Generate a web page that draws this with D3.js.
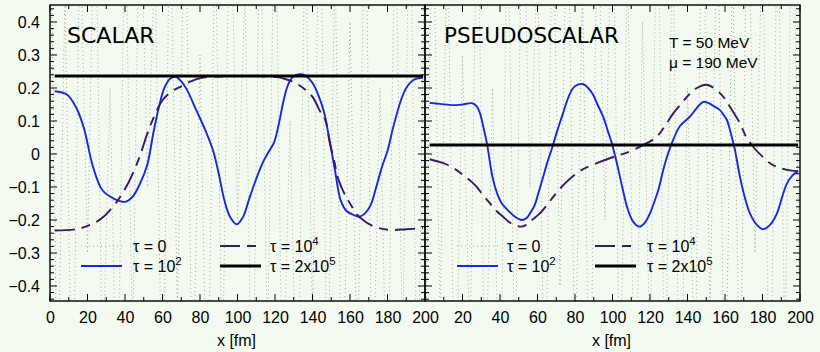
<!DOCTYPE html>
<html><head><meta charset="utf-8">
<script src="https://cdn.jsdelivr.net/npm/d3@7"></script>
<style>body{margin:0;background:#f3fbf1}svg{display:block}</style>
</head><body><svg id="c" width="820" height="352"></svg>
<script>
// ---------- data ----------
const xTicks = [0,20,40,60,80,100,120,140,160,180,200];
const yTicks = [-0.4,-0.3,-0.2,-0.1,0,0.1,0.2,0.3,0.4];
const panelTitles = ["SCALAR","PSEUDOSCALAR"];
const paramLabels = ["T = 50 MeV","\u03bc = 190 MeV"];

// tau = 0 (noisy, dotted), sampled every 4 fm
const noiseX = d3.range(0, 200.1, 4);
const scalarTau0 = [0.9,-0.8,0.5,-0.9,0.7,-0.3,0.9,-0.7,0.2,-0.9,
0.8,-0.6,0.9,-0.1,0.6,-0.9,0.8,-0.5,0.9,-0.8,
0.3,-0.9,0.7,-0.7,0.9,-0.2,0.5,-0.9,0.8,-0.6,
0.9,-0.8,0.1,-0.9,0.7,-0.5,0.9,-0.8,0.6,-0.9,
0.4,-0.7,0.9,-0.8,0.2,-0.9,0.8,-0.6,0.9,-0.9,0.7];
const pseudoTau0 = [-0.8,0.9,-0.5,0.7,-0.9,0.3,-0.6,0.9,-0.8,0.2,
-0.9,0.8,-0.7,0.9,-0.1,0.6,-0.9,0.8,-0.4,0.9,
-0.7,0.5,-0.9,0.8,-0.2,0.9,-0.8,0.6,-0.9,0.4,
-0.6,0.9,-0.8,0.7,-0.9,0.2,-0.7,0.9,-0.5,0.8,
-0.9,0.6,-0.8,0.9,-0.3,0.7,-0.9,0.8,-0.6,0.9,-0.5];

// SCALAR tau = 10^2
const scalarTau2X = [2.5,9,14,18,23,28,34,40,44,48,52,55,58,61,64,67,70,73,78,83,87,90,93,96,99.6,103,106,108.4,111,114,117,119.5,122,124.5,127,130,133,136,140,143,146,149,152,155,158,162,165,168,171,174,177,180,183,187,190,194,199];
const scalarTau2 = [0.19,0.18,0.14,0.08,-0.04,-0.11,-0.135,-0.145,-0.13,-0.09,-0.03,0.06,0.14,0.2,0.228,0.234,0.22,0.195,0.133,0.07,0.01,-0.06,-0.14,-0.19,-0.213,-0.19,-0.14,-0.1,-0.06,-0.02,0.01,0.035,0.09,0.16,0.21,0.236,0.242,0.238,0.215,0.18,0.13,0.045,-0.05,-0.14,-0.172,-0.185,-0.19,-0.18,-0.155,-0.1,-0.04,0.01,0.08,0.16,0.2,0.225,0.232];
// SCALAR tau = 10^4
const scalarTau4X = [2.5,14,20,25,29,32,35,38,42,45,48,52,56,60,65,70,75,80,90,100,110,121,125,130,135,140,144,147,149,151.5,154,157,160,164,167,170,174,181,190,199];
const scalarTau4 = [-0.232,-0.228,-0.218,-0.205,-0.188,-0.17,-0.15,-0.125,-0.085,-0.048,-0.005,0.063,0.12,0.163,0.19,0.205,0.22,0.23,0.235,0.236,0.236,0.233,0.228,0.218,0.2,0.173,0.13,0.1,0.04,-0.02,-0.08,-0.12,-0.15,-0.185,-0.2,-0.212,-0.222,-0.23,-0.228,-0.225];
// SCALAR tau = 2x10^5
const scalarTau5X = [2.5,199];
const scalarTau5 = [0.236,0.236];

// PSEUDOSCALAR tau = 10^2
const pseudoTau2X = [2.5,8,15,20,25,27.5,29.3,31,33,36,38.5,41,45,48,51.5,54,56,58.5,60.4,63,65,68,70.5,73.6,76,79,81.5,84.3,87,89.6,92,95,97.5,99.6,102,104,106,108,111,114.3,117,120,122,124.4,127,129,132.3,136,141.3,145,148.4,151,154,157.3,159,161,163,165.3,168,170.5,173.3,177,180.3,184,187.7,190.5,193,196,199];
const pseudoTau2 = [0.155,0.152,0.148,0.15,0.154,0.145,0.124,0.085,0.033,-0.07,-0.12,-0.15,-0.175,-0.19,-0.2,-0.195,-0.18,-0.155,-0.12,-0.07,-0.03,0.022,0.07,0.123,0.165,0.2,0.21,0.212,0.2,0.18,0.15,0.113,0.07,0.033,-0.02,-0.07,-0.12,-0.165,-0.205,-0.22,-0.21,-0.18,-0.15,-0.11,-0.05,-0.01,0.042,0.085,0.113,0.14,0.158,0.155,0.145,0.133,0.12,0.103,0.065,0.012,-0.07,-0.13,-0.18,-0.215,-0.228,-0.215,-0.18,-0.13,-0.09,-0.065,-0.052];
// PSEUDOSCALAR tau = 10^4
const pseudoTau4X = [2.5,9.8,15,20.5,24,27.6,31,34.7,38,41.6,45,48.9,51.5,54,57,61.3,65,68.4,72,77.3,83.6,91.6,102,108,114.7,119,123.6,128,132.4,137,141.3,145,150,154,159,163,168,171,175,180,184,188,193,199];
const pseudoTau4 = [-0.016,-0.028,-0.042,-0.064,-0.08,-0.1,-0.125,-0.15,-0.172,-0.19,-0.207,-0.218,-0.22,-0.215,-0.2,-0.18,-0.155,-0.13,-0.105,-0.075,-0.048,-0.028,-0.006,0.005,0.022,0.035,0.052,0.085,0.123,0.155,0.183,0.2,0.21,0.2,0.174,0.14,0.093,0.055,0.022,-0.008,-0.028,-0.04,-0.048,-0.052];
// PSEUDOSCALAR tau = 2x10^5
const pseudoTau5X = [2.5,199];
const pseudoTau5 = [0.027,0.027];

// ---------- drawing ----------
const svg = d3.select("#c");
const W = 820, H = 352, topY = 5, bottomY = 301;
svg.append("rect").attr("width",W).attr("height",H).attr("fill","#f3fbf1");

const y = d3.scaleLinear().domain([-0.4455, 0.4515]).range([bottomY, topY]);
const panels = [
  {x0:50, x1:425, title:panelTitles[0], titleX:67,
   series:[[noiseX,scalarTau0,"tau0"],[scalarTau2X,scalarTau2,"tau2"],[scalarTau4X,scalarTau4,"tau4"],[scalarTau5X,scalarTau5,"tau5"]],
   leg:{s1:81,s2:220,t1:133,t2:270}},
  {x0:425, x1:800, title:panelTitles[1], titleX:444,
   series:[[noiseX,pseudoTau0,"tau0"],[pseudoTau2X,pseudoTau2,"tau2"],[pseudoTau4X,pseudoTau4,"tau4"],[pseudoTau5X,pseudoTau5,"tau5"]],
   leg:{s1:457,s2:595,t1:507,t2:647}}
];
const styles = {
  tau0:{stroke:"#a6a6a6", w:1, dash:"1,3"},
  tau2:{stroke:"#1428e0", w:1.9, dash:null},
  tau4:{stroke:"#3b1860", w:1.9, dash:"20,7,9,7"},
  tau5:{stroke:"#000000", w:3, dash:null}
};
const tickFont = "Liberation Sans, Arial, sans-serif";
const titleFont = "DejaVu Sans, sans-serif";

panels.forEach((p,i)=>{
  const x = d3.scaleLinear().domain([0,200]).range([p.x0,p.x1]);
  const g = svg.append("g");
  const cid = "clip"+i;
  svg.append("clipPath").attr("id",cid).append("rect")
     .attr("x",p.x0).attr("y",topY).attr("width",p.x1-p.x0).attr("height",bottomY-topY);
  const plot = g.append("g").attr("clip-path",`url(#${cid})`);

  p.series.forEach(([xs,vs,key])=>{
    const st = styles[key];
    const line = d3.line().x((d,j)=>x(xs[j])).y(d=>y(d))
       .curve(key==="tau0"? d3.curveLinear : d3.curveCatmullRom.alpha(0.5));
    plot.append("path").attr("d", line(vs)).attr("fill","none")
      .attr("stroke",st.stroke).attr("stroke-width",st.w)
      .attr("stroke-dasharray",st.dash).attr("stroke-linejoin","round");
  });

  // ticks (inward)
  const yMinor = d3.range(-0.44, 0.4501, 0.02);
  const xMinor = d3.range(0, 200.1, 10);
  const tk = g.append("g").attr("stroke","#000").attr("stroke-width",1);
  yMinor.forEach(v=>{
    const major = Math.abs(Math.round(v*10)-v*10) < 1e-6;
    const L = major ? 7 : 4;
    tk.append("line").attr("x1",p.x0).attr("x2",p.x0+L).attr("y1",y(v)).attr("y2",y(v));
    tk.append("line").attr("x1",p.x1).attr("x2",p.x1-L).attr("y1",y(v)).attr("y2",y(v));
  });
  xMinor.forEach(v=>{
    const L = (v%20===0) ? 7 : 4;
    tk.append("line").attr("x1",x(v)).attr("x2",x(v)).attr("y1",bottomY).attr("y2",bottomY-L);
    tk.append("line").attr("x1",x(v)).attr("x2",x(v)).attr("y1",topY).attr("y2",topY+L);
  });

  // frame
  g.append("rect").attr("x",p.x0).attr("y",topY).attr("width",p.x1-p.x0).attr("height",bottomY-topY)
   .attr("fill","none").attr("stroke","#111").attr("stroke-width",1.5);

  // x axis labels
  const xa = d3.axisBottom(x).tickValues(i===0? xTicks : xTicks.slice(1)).tickSize(0).tickPadding(11);
  const xg = g.append("g").attr("transform",`translate(0,${bottomY})`).call(xa);
  xg.select(".domain").remove();
  xg.selectAll("text").attr("font-family",tickFont).attr("font-size",16).attr("fill","#000");

  if(i===0){
    const ya = d3.axisLeft(y).tickValues(yTicks).tickSize(0).tickPadding(10)
      .tickFormat(d=> Math.abs(d)<1e-9 ? "0" : d3.format(".1f")(d));
    const yg = g.append("g").attr("transform",`translate(${p.x0},0)`).call(ya);
    yg.select(".domain").remove();
    yg.selectAll("text").attr("font-family",tickFont).attr("font-size",16).attr("fill","#000");
  }

  g.append("text").attr("x",(p.x0+p.x1)/2 - 1).attr("y",346).attr("text-anchor","middle")
   .attr("font-family",tickFont).attr("font-size",16).text("x [fm]");

  g.append("text").attr("x",p.titleX).attr("y",43).attr("font-family",titleFont)
   .attr("font-size",i===0?22:21.5).text(p.title);

  // legend
  const L = p.leg;
  const lg = g.append("g").attr("font-family",tickFont).attr("font-size",16);
  const legItems = [
    {key:"tau0", sx:L.s1, tx:L.t1, yy:246, txt:"\u03c4 = 0", sup:null},
    {key:"tau2", sx:L.s1, tx:L.t1, yy:266, txt:"\u03c4 = 10", sup:"2"},
    {key:"tau4", sx:L.s2, tx:L.t2, yy:246, txt:"\u03c4 = 10", sup:"4"},
    {key:"tau5", sx:L.s2, tx:L.t2, yy:266, txt:"\u03c4 = 2x10", sup:"5"}
  ];
  legItems.forEach(it=>{
    const st = styles[it.key];
    lg.append("line").attr("x1",it.sx).attr("x2",it.sx+41).attr("y1",it.yy).attr("y2",it.yy)
      .attr("stroke",st.stroke).attr("stroke-width",it.key==="tau5"?3:st.w).attr("stroke-dasharray",st.dash);
    const t = lg.append("text").attr("x",it.tx).attr("y",it.yy+5.5).text(it.txt);
    if(it.sup) t.append("tspan").attr("dy",-7).attr("font-size",11.5).text(it.sup);
  });
});

// parameter labels
svg.append("text").attr("x",669).attr("y",48).attr("font-family",tickFont).attr("font-size",15.5).text(paramLabels[0]);
svg.append("text").attr("x",669).attr("y",68).attr("font-family",tickFont).attr("font-size",15.5).text(paramLabels[1]);
</script></body></html>
